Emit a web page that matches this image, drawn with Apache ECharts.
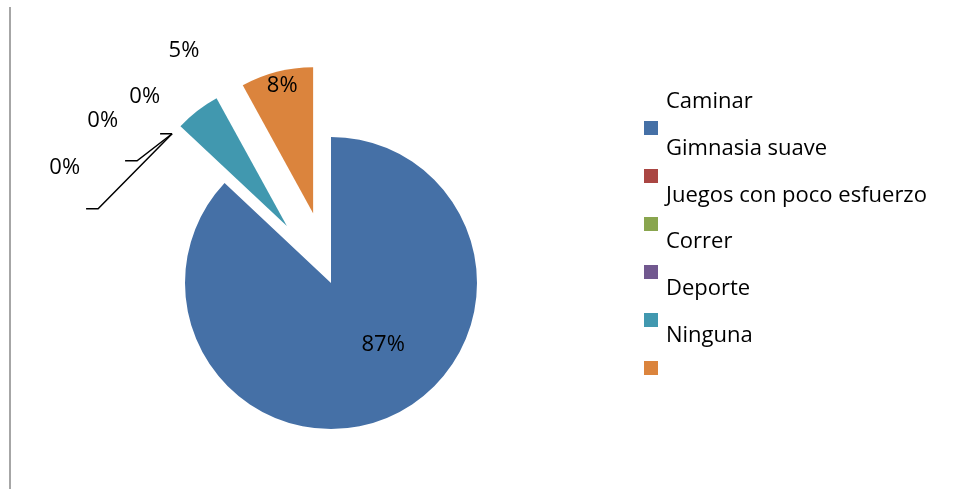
<!DOCTYPE html>
<html>
<head>
<meta charset="utf-8">
<script src="https://cdn.jsdelivr.net/npm/echarts@6/dist/echarts.min.js"></script>
<style>
  html, body { margin: 0; padding: 0; background: #ffffff; }
  #chart { width: 953px; height: 489px; }
</style>
</head>
<body>
<div id="chart"></div>
<script>
// Actividad física preferida (porcentaje de respuestas)
const categories = ['Caminar', 'Gimnasia suave', 'Juegos con poco esfuerzo', 'Correr', 'Deporte', 'Ninguna'];
const values = [87, 0, 0, 0, 5, 8];
const colors = ['#4570A6', '#AA4643', '#89A54E', '#71588F', '#4198AF', '#DB843D'];
const exploded = [false, true, true, true, true, true];

const FONT = 'Open Sans';

// label nudges (px) for the labelled slices
const labelShift = [
  { dx: 22, dy: -8 },
  null,
  null,
  null,
  { dx: 18, dy: -46 },
  { dx: -12, dy: -54 }
];

// fanned leader lines for the empty slices, relative to the slice anchor:
// bend point, and right/middle anchor of the text
const fanBend = [[0, 0], [-35, 27], [-74, 75]];
const fanText = [[-12, -37], [-54, -13], [-92, 34]];
const FAN_TAIL = 12;

const chart = echarts.init(document.getElementById('chart'), null, { renderer: 'canvas' });

const pieData = categories.map((name, i) => {
  const item = {
    name: name,
    value: values[i],
    selected: exploded[i],
    itemStyle: { color: colors[i] }
  };
  if (values[i] === 0) {
    item.label = { position: 'outside' };
    item.labelLine = { show: true, length: 0, length2: 12 };
  } else if (i === 4) {
    item.label = { position: 'outside' };
    item.labelLine = { show: false, length: 18, length2: 0 };
  } else {
    item.label = { position: 'inside' };
  }
  return item;
});

const zeroOrder = values.map((v, i) => (v === 0 ? i : -1)).filter((i) => i >= 0);

function layoutLabel(p) {
  const i = p.dataIndex;
  const k = zeroOrder.indexOf(i);
  if (k < 0) return labelShift[i];
  const s = p.labelLinePoints[0];
  const b = [s[0] + fanBend[k][0], s[1] + fanBend[k][1]];
  const r = p.labelRect;
  return {
    dx: s[0] + fanText[k][0] - (r.x + r.width),
    dy: s[1] + fanText[k][1] - (r.y + r.height / 2),
    labelLinePoints: [s, b, [b[0] - FAN_TAIL, b[1]]]
  };
}

chart.setOption({
  animation: false,
  color: colors,
  legend: [
    {
      // colour swatches
      orient: 'vertical',
      left: 639,
      top: 116,
      itemWidth: 14,
      itemHeight: 14,
      itemGap: 34,
      icon: 'rect',
      selectedMode: false,
      formatter: () => '',
      textStyle: { fontSize: 10, lineHeight: 14 },
      data: categories
    },
    {
      // category names
      orient: 'vertical',
      left: 642,
      top: 85,
      itemWidth: 14,
      itemHeight: 24,
      itemGap: 22.7,
      icon: 'rect',
      selectedMode: false,
      itemStyle: { color: 'rgba(0,0,0,0)', borderWidth: 0 },
      textStyle: { fontFamily: FONT, fontSize: 22, color: '#000', lineHeight: 24 },
      data: categories
    }
  ],
  graphic: [
    {
      type: 'line',
      shape: { x1: 10, y1: 7, x2: 10, y2: 489 },
      style: { stroke: '#a6a6a6', lineWidth: 2 }
    }
  ],
  series: [
    {
      type: 'pie',
      center: [331, 283],
      radius: 146,
      startAngle: 90,
      clockwise: true,
      selectedMode: 'multiple',
      selectedOffset: 72,
      avoidLabelOverlap: false,
      emphasis: { disabled: true },
      select: { itemStyle: { borderWidth: 0 } },
      label: {
        formatter: '{d}%',
        fontFamily: FONT,
        fontSize: 22,
        color: '#000'
      },
      labelLine: {
        lineStyle: { color: '#000', width: 1.5 }
      },
      labelLayout: layoutLabel,
      itemStyle: { borderWidth: 0 },
      data: pieData
    }
  ]
});
</script>
</body>
</html>
